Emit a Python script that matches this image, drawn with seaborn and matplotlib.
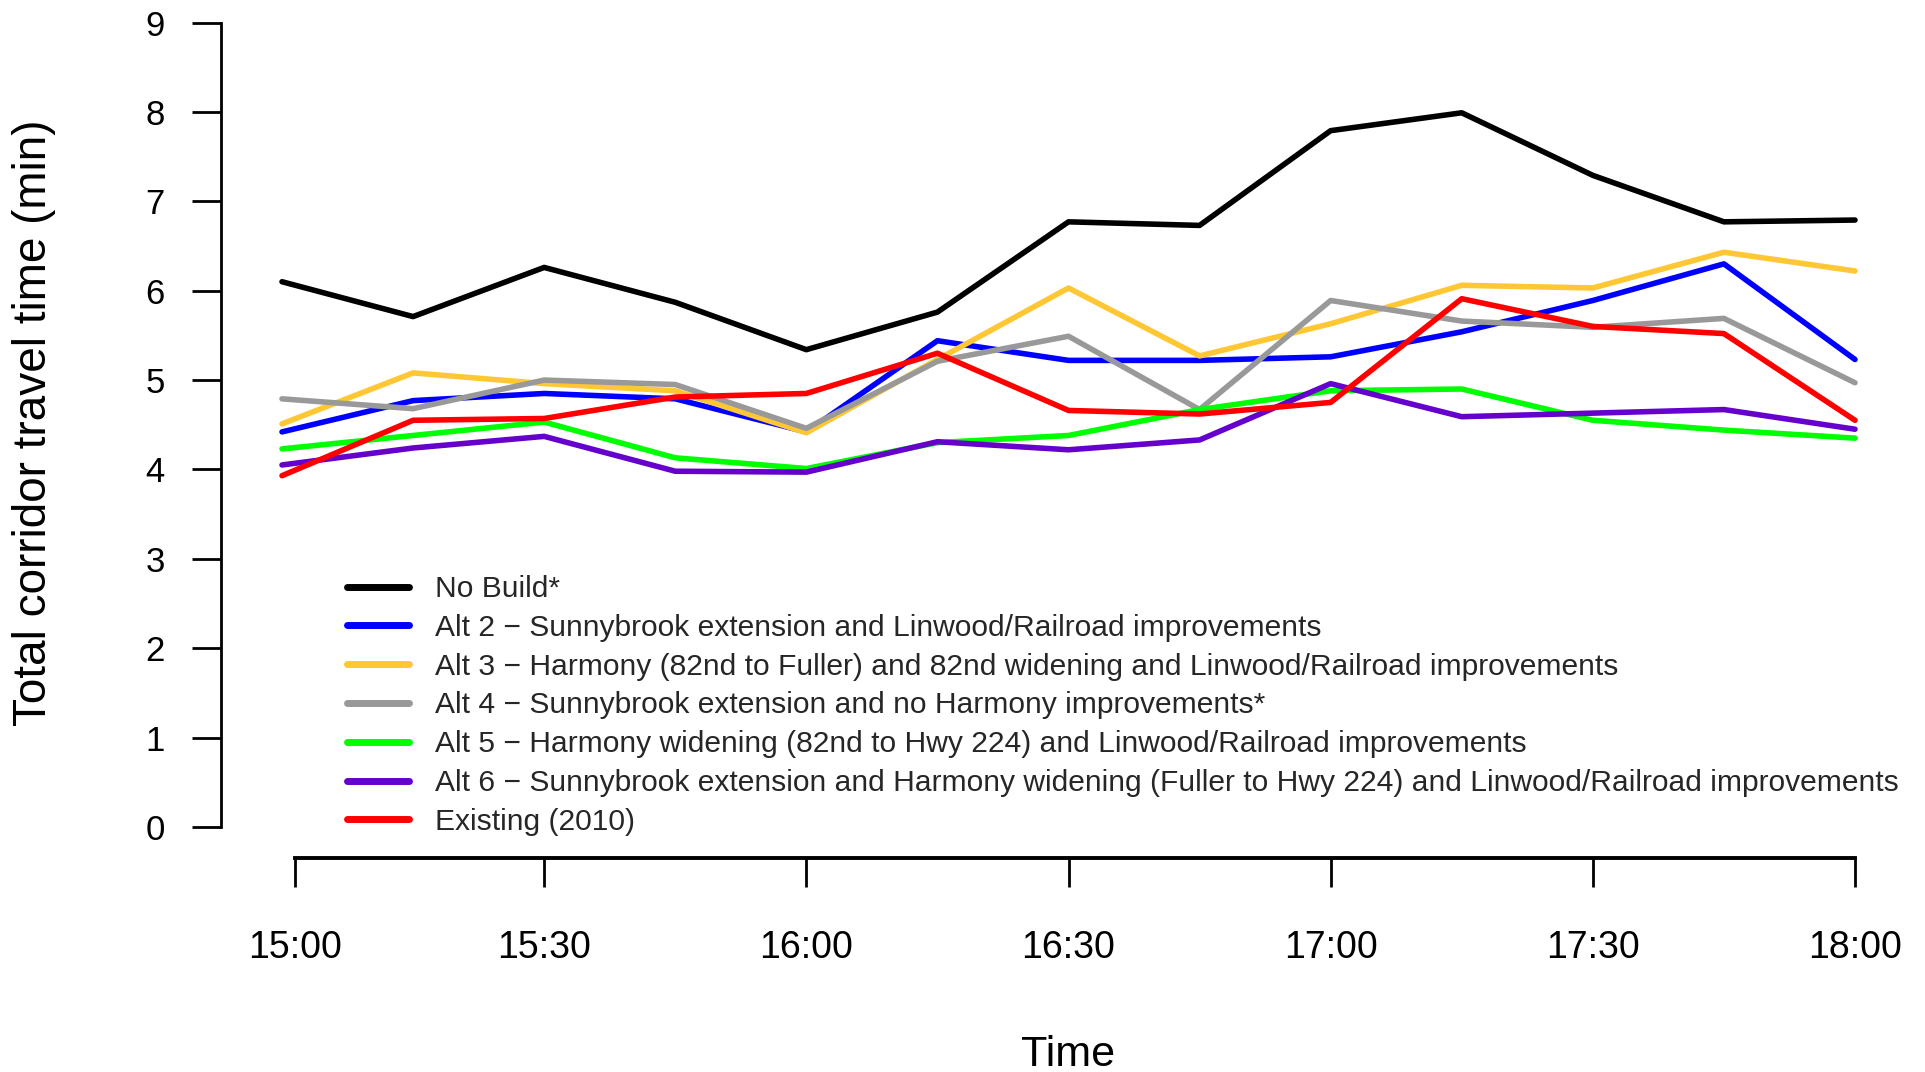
import numpy as np
import pandas as pd
import matplotlib
matplotlib.use("Agg")
import matplotlib.pyplot as plt
import seaborn as sns
from matplotlib.lines import Line2D

# Time of day, 15-minute steps (minutes after 15:00)
minutes = [0, 15, 30, 45, 60, 75, 90, 105, 120, 135, 150, 165, 180]
# the first tick sits where the axis line begins, a touch right of the first sample
tick_minutes = [1.5, 30, 60, 90, 120, 150, 180]
tick_labels = ["15:00", "15:30", "16:00", "16:30", "17:00", "17:30", "18:00"]

no_build = [6.10, 5.71, 6.26, 5.87, 5.34, 5.76, 6.77, 6.73, 7.79, 7.99, 7.29, 6.77, 6.79]
alt2 = [4.42, 4.77, 4.85, 4.79, 4.42, 5.44, 5.22, 5.22, 5.26, 5.54, 5.89, 6.30, 5.23]
alt3 = [4.51, 5.08, 4.96, 4.88, 4.41, 5.23, 6.03, 5.27, 5.63, 6.06, 6.03, 6.43, 6.22]
alt4 = [4.79, 4.68, 5.00, 4.95, 4.46, 5.21, 5.49, 4.67, 5.89, 5.66, 5.59, 5.69, 4.97]
alt5 = [4.23, 4.38, 4.53, 4.13, 4.01, 4.30, 4.38, 4.67, 4.88, 4.90, 4.55, 4.44, 4.35]
alt6 = [4.05, 4.24, 4.37, 3.98, 3.97, 4.31, 4.22, 4.33, 4.96, 4.59, 4.63, 4.67, 4.45]
existing = [3.93, 4.55, 4.57, 4.81, 4.85, 5.30, 4.66, 4.62, 4.75, 5.91, 5.60, 5.52, 4.55]

scenario_names = [
    "No Build*",
    "Alt 2 \u2212 Sunnybrook extension and Linwood/Railroad improvements",
    "Alt 3 \u2212 Harmony (82nd to Fuller) and 82nd widening and Linwood/Railroad improvements",
    "Alt 4 \u2212 Sunnybrook extension and no Harmony improvements*",
    "Alt 5 \u2212 Harmony widening (82nd to Hwy 224) and Linwood/Railroad improvements",
    "Alt 6 \u2212 Sunnybrook extension and Harmony widening (Fuller to Hwy 224) and Linwood/Railroad improvements",
    "Existing (2010)",
]
scenario_colors = ["#000000", "#0000FF", "#FFC733", "#999999", "#00FF00", "#6600CC", "#FF0000"]
series = [no_build, alt2, alt3, alt4, alt5, alt6, existing]

df = pd.concat(
    [pd.DataFrame({"minute": minutes, "time": vals, "scenario": name})
     for name, vals in zip(scenario_names, series)],
    ignore_index=True,
)

sns.set_theme(style="white")
plt.rcParams["font.family"] = ["Liberation Sans", "DejaVu Sans"]

W, H = 1925, 1072
fig = plt.figure(figsize=(W / 100, H / 100), dpi=100)

# plot region in pixels
px_per_min = (1855 - 282) / 180.0
px_per_unit = (827 - 22.5) / 9.0
x0, x1 = -(282 - 221) / px_per_min, 187.0
y0, y1 = -(858 - 827) / px_per_unit, 9.05
left = 221
width = (x1 - x0) * px_per_min
bottom_px = 858
height = (y1 - y0) * px_per_unit
ax = fig.add_axes([left / W, (H - bottom_px) / H, width / W, height / H])

sns.lineplot(
    data=df, x="minute", y="time", hue="scenario",
    hue_order=scenario_names, palette=scenario_colors,
    linewidth=4.0, legend=False, ax=ax, sort=False,
)

ax.set_xlim(x0, x1)
ax.set_ylim(y0, y1)
ax.set_xticks(tick_minutes)
ax.set_xticklabels(tick_labels)
ax.set_yticks(range(0, 10))

for s in ["top", "right"]:
    ax.spines[s].set_visible(False)
ax.spines["left"].set_bounds(0, 9)
ax.spines["bottom"].set_bounds(tick_minutes[0], 180)
ax.spines["left"].set_linewidth(2.0)
ax.spines["bottom"].set_linewidth(2.8)
ax.spines["left"].set_color("black")
ax.spines["bottom"].set_color("black")

ax.tick_params(axis="y", direction="out", length=21, width=2.0, pad=19.5,
               labelsize=25, colors="black", left=True)
ax.tick_params(axis="x", direction="out", length=21, width=2.0, pad=30.5,
               labelsize=27, colors="black", bottom=True)

ax.set_xlabel("Time", fontsize=31, color="black")
ax.xaxis.set_label_coords(1068 / W, 1 - 1066 / H, transform=fig.transFigure)
ax.xaxis.label.set_va("baseline")

ax.set_ylabel("Total corridor travel time (min)", fontsize=33, color="black")
ax.yaxis.set_label_coords(34 / W, 1 - 423 / H, transform=fig.transFigure)
ax.yaxis.label.set_va("center")

handles = [Line2D([0], [0], color=c, linewidth=5.0) for c in scenario_colors]
ax.legend(
    handles, scenario_names, loc="upper left",
    bbox_to_anchor=(335 / W, 1 - 563 / H), bbox_transform=fig.transFigure,
    frameon=False, fontsize=21.6, handlelength=2.07, handletextpad=0.87,
    labelspacing=0.36, borderaxespad=0,
)

fig.savefig("out.png", dpi=100, facecolor="white")
